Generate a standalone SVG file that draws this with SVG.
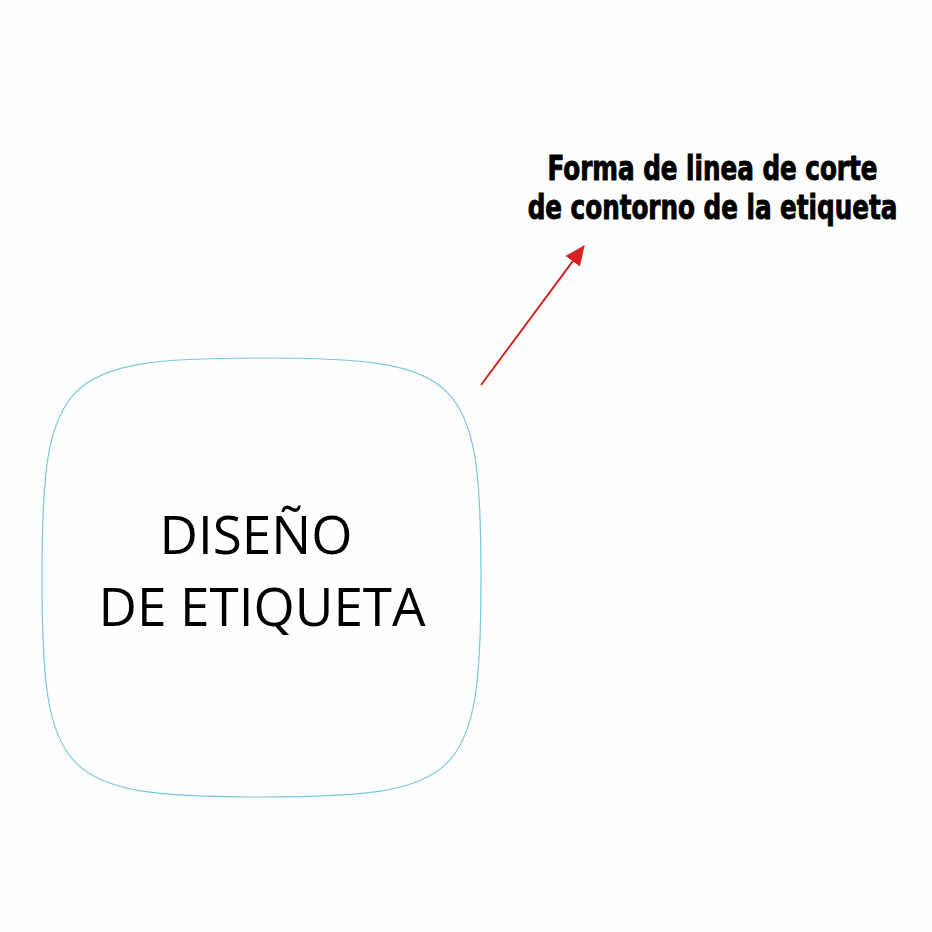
<svg xmlns="http://www.w3.org/2000/svg" width="932" height="932" viewBox="0 0 932 932">
<style>
.shape{fill:none;stroke:#78c7e2;stroke-width:1.2}
.main{font-family:"Open Sans","Liberation Sans",sans-serif;font-size:53px;fill:#000;text-anchor:middle}
.note{font-family:"DejaVu Sans","Liberation Sans",sans-serif;font-stretch:condensed;font-weight:bold;font-size:33px;fill:#000;stroke:#000;stroke-width:0.9;text-anchor:middle}
.arrow{stroke:#d42222;stroke-width:2;fill:none}
</style>
<defs>
<marker id="ah" viewBox="0 0 20 20" refX="19" refY="10" markerWidth="20" markerHeight="20" markerUnits="userSpaceOnUse" orient="auto">
<path d="M0,1 L20,10 L0,19 z" fill="#d91f1f"/>
</marker>
</defs>
<rect width="932" height="932" fill="#fefefe"/>
<g id="label-shape">
<path class="shape" d="M481 577.5 C481 780 463 797 261.5 797 C60 797 42 780 42 577.5 C42 375 60 358 261.5 358 C463 358 481 375 481 577.5 Z"/>
<text class="main" x="256" y="554">DISEÑO</text>
<text class="main" x="262" y="626">DE ETIQUETA</text>
</g>
<g id="note" transform="translate(712.5 0) scale(0.83 1)">
<text class="note" x="0" y="180">Forma de linea de corte</text>
<text class="note" x="0" y="219">de contorno de la etiqueta</text>
</g>
<g id="connectors">
<line class="arrow" x1="481" y1="385" x2="584" y2="246" marker-end="url(#ah)"/>
</g>
</svg>
